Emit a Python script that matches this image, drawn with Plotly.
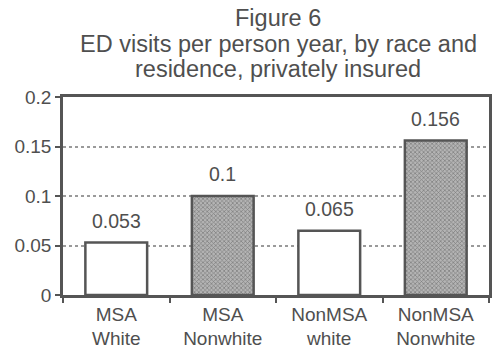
import plotly.graph_objects as go

# ED visits per person year, privately insured
categories = ["MSA<br>White", "MSA<br>Nonwhite", "NonMSA<br>white", "NonMSA<br>Nonwhite"]
visits = [0.053, 0.1, 0.065, 0.156]
value_labels = ["0.053", "0.1", "0.065", "0.156"]
tick_vals = [0, 0.05, 0.1, 0.15, 0.2]
tick_text = ["0", "0.05", "0.1", "0.15", "0.2"]
title_lines = [
    "Figure 6",
    "ED visits per person year, by race and",
    "residence, privately insured",
]

TEXT = "#4f4f4f"
LINE = "#555555"
FONT = "Liberation Sans, Arial, sans-serif"

# white bars for "white" groups, hatched grey for "nonwhite" groups
fill = ["#ffffff", "#b4b4b4", "#ffffff", "#b4b4b4"]
shapes = ["", "x", "", "x"]

fig = go.Figure(
    go.Bar(
        x=categories,
        y=visits,
        width=0.58,
        marker=dict(
            color=fill,
            line=dict(color=LINE, width=2.5),
            pattern=dict(shape=shapes, fgcolor="#8a8a8a", bgcolor="#c4c4c4",
                         size=3, solidity=0.4),
        ),
    )
)

# value labels sit a little above each bar
value_annotations = [
    dict(
        text=label,
        x=cat, y=val,
        xref="x", yref="y",
        xanchor="center", yanchor="bottom",
        yshift=9,
        showarrow=False,
        font=dict(size=19.5, color=TEXT, family=FONT),
    )
    for cat, val, label in zip(categories, visits, value_labels)
]

# three title lines, set with tight line spacing
PLOT_TOP, PLOT_H = 97, 198
title_centers_px = [18, 44, 69]
title_annotations = [
    dict(
        text=line,
        xref="paper", yref="paper",
        x=0.505, y=(PLOT_TOP + PLOT_H - yc) / PLOT_H,
        xanchor="center", yanchor="middle",
        showarrow=False,
        font=dict(size=23.5, color=TEXT, family=FONT),
    )
    for line, yc in zip(title_lines, title_centers_px)
]

fig.update_layout(
    width=496,
    height=362,
    margin=dict(l=63, r=4, t=PLOT_TOP, b=362 - PLOT_TOP - PLOT_H),
    paper_bgcolor="white",
    plot_bgcolor="white",
    showlegend=False,
    font=dict(family=FONT, color=TEXT, size=19),
    annotations=title_annotations + value_annotations,
)

fig.update_xaxes(
    showline=True,
    linecolor=LINE,
    linewidth=2.5,
    mirror=True,
    ticks="outside",
    tickson="boundaries",
    ticklen=5,
    tickwidth=2,
    tickcolor=LINE,
    tickfont=dict(size=19, color=TEXT),
    showgrid=False,
)

fig.update_yaxes(
    range=[0, 0.2],
    tickvals=tick_vals,
    ticktext=tick_text,
    showline=True,
    linecolor=LINE,
    linewidth=2.5,
    mirror=True,
    ticks="outside",
    ticklen=5,
    tickwidth=2,
    tickcolor=LINE,
    tickfont=dict(size=19, color=TEXT),
    showgrid=True,
    gridcolor="#9a9a9a",
    gridwidth=2,
    griddash="dot",
    zeroline=False,
)

fig.write_html("out.html")
